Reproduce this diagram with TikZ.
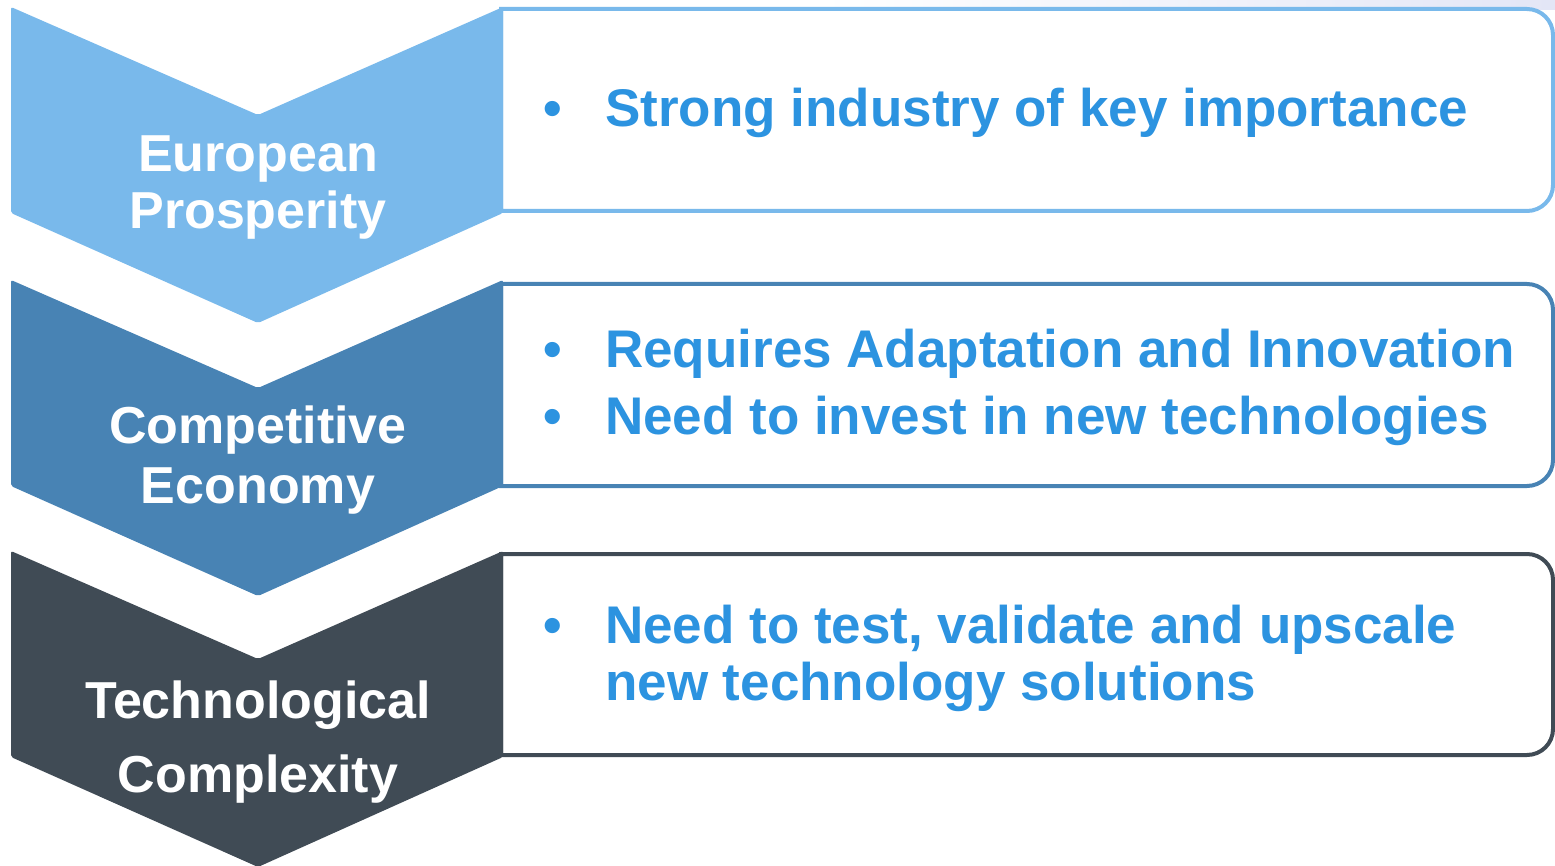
\documentclass[tikz,border=0pt]{standalone}
\usepackage{fontspec}
\setmainfont{Liberation Sans}
\definecolor{cA}{HTML}{79B9EB}
\definecolor{cB}{HTML}{4883B4}
\definecolor{cC}{HTML}{404B55}
\definecolor{tblue}{HTML}{2C93E0}
\definecolor{bgyel}{HTML}{FBF3D6}
\definecolor{bglav}{HTML}{E3E6F6}
\begin{document}
\begin{tikzpicture}[x=1pt,y=-1pt,
  chev/.style={rounded corners=2pt},
  rowbox/.style={line width=4pt, fill=white, line join=miter},
  lab/.style={inner sep=0pt, anchor=base, text=white, font=\fontsize{52}{60}\selectfont\bfseries},
  item/.style={inner sep=0pt, anchor=base west, text=tblue, font=\fontsize{53}{60}\selectfont\bfseries},
  bul/.style={inner sep=0pt, anchor=base, text=tblue, font=\fontsize{53}{60}\selectfont\bfseries}]
\useasboundingbox (0,0) rectangle (1555,866);
\clip (0,0) rectangle (1555,866);
% faint background strip at the top
\shade[left color=white, middle color=bgyel, right color=bglav] (820,0) rectangle (1555,10);
% boxes
\draw[rowbox, draw=cA] (501,9) -- (1527,9) arc[start angle=-90, end angle=0, radius=26]
  -- (1553,185) arc[start angle=0, end angle=90, radius=26] -- (501,211) -- cycle;
\draw[rowbox, draw=cB] (501,284) -- (1527,284) arc[start angle=-90, end angle=0, radius=26]
  -- (1553,460) arc[start angle=0, end angle=90, radius=26] -- (501,486) -- cycle;
\draw[rowbox, draw=cC] (501,554) -- (1527,554) arc[start angle=-90, end angle=0, radius=26]
  -- (1553,729) arc[start angle=0, end angle=90, radius=26] -- (501,755) -- cycle;
% chevrons
\fill[chev, cA] (11,7) -- (258,115) -- (503,7) -- (503,213) -- (258,323) -- (11,213) -- cycle;
\fill[chev, cB] (11,280) -- (258,388) -- (503,280) -- (503,486) -- (258,596) -- (11,486) -- cycle;
\fill[chev, cC] (11,551) -- (258,659) -- (503,551) -- (503,757) -- (258,867) -- (11,757) -- cycle;
% chevron labels
\node[lab] (l1a) at (258,172) {European};
\node[lab] (l1b) at (258,229) {Prosperity};
\node[lab] (l2a) at (258,443) {Competitive};
\node[lab] (l2b) at (258,503) {Economy};
\node[lab] (l3a) at (258,718) {Technological};
\node[lab] (l3b) at (258,792) {Complexity};
% items
\node[bul] (b1) at (553,127) {•};
\node[item] (t1) at (605,127) {Strong industry of key importance};
\node[bul] (b2) at (553,368) {•};
\node[item] (t2) at (605,368) {Requires Adaptation and Innovation};
\node[bul] (b3) at (553,434) {•};
\node[item] (t3) at (605,434) {Need to invest in new technologies};
\node[bul] (b4) at (553,643) {•};
\node[item] (t4) at (605,643) {Need to test, validate and upscale};
\node[item] (t5) at (605,700) {new technology solutions};
\end{tikzpicture}
\end{document}
